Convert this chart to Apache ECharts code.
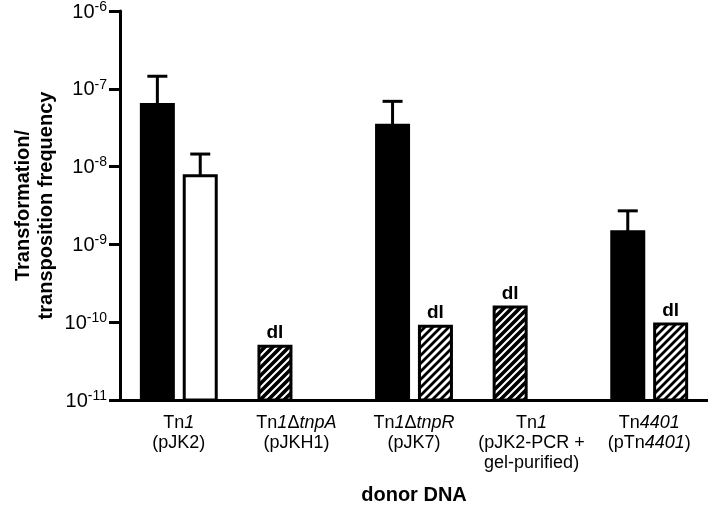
<!DOCTYPE html>
<html>
<head>
<meta charset="utf-8">
<script src="https://cdn.jsdelivr.net/npm/echarts@6/dist/echarts.min.js"></script>
<style>html,body{margin:0;padding:0;background:#fff}#c{width:708px;height:512px}</style>
</head>
<body>
<div id="c"></div>
<script>
const categories = [
  'Tn{i|1}\n(pJK2)',
  'Tn{i|1}Δ{i|tnpA}\n(pJKH1)',
  'Tn{i|1}Δ{i|tnpR}\n(pJK7)',
  'Tn{i|1}\n(pJK2-PCR +\ngel-purified)',
  'Tn{i|4401}\n(pTn{i|4401})'
];
const transformation = [6.3e-8, 4.9e-11, 3.4e-8, 1.57e-10, 1.45e-9];
const transformationErrTop = [1.45e-7, null, 6.9e-8, null, 2.7e-9];
const transformationDL = [false, true, false, true, false];
const transposition = [7.6e-9, null, 8.9e-11, null, 9.5e-11];
const transpositionErrTop = [1.45e-8, null, null, null, null];
const transpositionDL = [false, false, true, false, true];
const yTicks = [1e-11, 1e-10, 1e-9, 1e-8, 1e-7, 1e-6];

const FONT = 'Liberation Sans, Arial, Helvetica, sans-serif';
const BAR_W = 32, BAR_GAP = 0.34, BORDER = 3;
const half = BAR_W * (1 + BAR_GAP) / 2;

function hatch(bg, fg, lw) {
  const c = document.createElement('canvas');
  c.width = 8; c.height = 8;
  const g = c.getContext('2d');
  g.fillStyle = bg; g.fillRect(0, 0, 8, 8);
  g.strokeStyle = fg; g.lineWidth = lw; g.lineCap = 'square';
  g.beginPath();
  g.moveTo(-2, 10); g.lineTo(10, -2);
  g.moveTo(-2, 2); g.lineTo(2, -2);
  g.moveTo(6, 10); g.lineTo(10, 6);
  g.stroke();
  return c;
}
const fills = {
  solidA: '#000',
  solidB: '#fff',
  hatchA: { image: hatch('#000', '#fff', 2), repeat: 'repeat' },
  hatchB: { image: hatch('#fff', '#000', 2.8), repeat: 'repeat' }
};

// [category index, value, side (-1 left / +1 right), fill key, below-detection-limit flag]
const barData = [];
transformation.forEach((v, i) => { if (v != null) barData.push([i, v, -1, transformationDL[i] ? 'hatchA' : 'solidA', transformationDL[i] ? 1 : 0]); });
transposition.forEach((v, i) => { if (v != null) barData.push([i, v, 1, transpositionDL[i] ? 'hatchB' : 'solidB', transpositionDL[i] ? 1 : 0]); });

const errData = [];
transformation.forEach((v, i) => { if (transformationErrTop[i] != null) errData.push([i, v, transformationErrTop[i], -1]); });
transposition.forEach((v, i) => { if (transpositionErrTop[i] != null) errData.push([i, v, transpositionErrTop[i], 1]); });

const chart = echarts.init(document.getElementById('c'), null, { renderer: 'canvas' });
chart.setOption({
  animation: false,
  backgroundColor: '#fff',
  grid: { left: 120, right: 0, top: 11, bottom: 112, containLabel: false },
  xAxis: {
    type: 'category',
    data: categories,
    name: 'donor DNA',
    nameLocation: 'middle',
    nameGap: 85,
    nameMoveOverlap: false,
    nameTextStyle: { fontFamily: FONT, fontWeight: 'bold', fontSize: 20, color: '#000', verticalAlign: 'top' },
    axisLine: { lineStyle: { color: '#000', width: 3 } },
    axisTick: { alignWithLabel: true, length: 8, lineStyle: { color: '#000', width: 3 } },
    axisLabel: {
      interval: 0, margin: 13, fontFamily: FONT, fontSize: 18, color: '#000', lineHeight: 20, align: 'center',
      rich: { i: { fontFamily: FONT, fontSize: 18, fontStyle: 'italic', color: '#000', lineHeight: 20 } }
    }
  },
  yAxis: {
    type: 'log',
    logBase: 10,
    min: yTicks[0],
    max: yTicks[yTicks.length - 1],
    name: 'Transformation/\ntransposition frequency',
    nameLocation: 'middle',
    nameGap: 62,
    nameMoveOverlap: false,
    nameTextStyle: { fontFamily: FONT, fontWeight: 'bold', fontSize: 20, color: '#000', lineHeight: 23, align: 'center' },
    axisLine: { show: true, lineStyle: { color: '#000', width: 3 } },
    axisTick: { show: true, length: 11, lineStyle: { color: '#000', width: 3 } },
    splitLine: { show: false },
    axisLabel: {
      margin: 13,
      fontFamily: FONT, fontSize: 20, color: '#000',
      formatter: v => '{b|10}{s|' + Math.round(Math.log10(v)) + '}',
      rich: {
        b: { fontFamily: FONT, fontSize: 20, color: '#000', lineHeight: 22, verticalAlign: 'bottom' },
        s: { fontFamily: FONT, fontSize: 14, color: '#000', lineHeight: 13, verticalAlign: 'top' }
      }
    }
  },
  series: [
    {
      type: 'custom', z: 3, data: barData,
      renderItem: (params, api) => {
        const i = api.value(0);
        const top = api.coord([i, api.value(1)]);
        const base = api.coord([i, yTicks[0]]);
        const cx = top[0] + api.value(2) * half;
        const item = barData[params.dataIndex];
        const children = [{
          type: 'rect',
          shape: { x: cx - BAR_W / 2, y: top[1], width: BAR_W, height: base[1] - top[1] },
          style: { fill: fills[item[3]], stroke: '#000', lineWidth: BORDER }
        }];
        if (item[4]) {
          children.push({
            type: 'text',
            style: { x: cx, y: top[1] - 4, text: 'dl', align: 'center', verticalAlign: 'bottom',
              font: 'bold 19px ' + FONT, fill: '#000' }
          });
        }
        return { type: 'group', children };
      }
    },
    {
      type: 'custom', z: 4, data: errData,
      renderItem: (params, api) => {
        const base = api.coord([api.value(0), api.value(1)]);
        const top = api.coord([api.value(0), api.value(2)]);
        const x = base[0] + api.value(3) * half;
        const st = { stroke: '#000', lineWidth: 3 };
        return { type: 'group', children: [
          { type: 'line', shape: { x1: x, y1: base[1], x2: x, y2: top[1] }, style: st },
          { type: 'line', shape: { x1: x - 10, y1: top[1], x2: x + 10, y2: top[1] }, style: st }
        ] };
      }
    }
  ]
});
</script>
</body>
</html>
